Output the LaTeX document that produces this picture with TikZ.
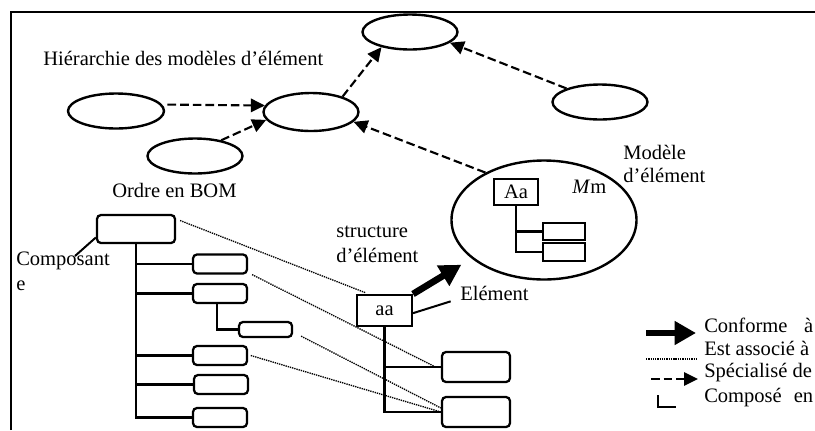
\documentclass[tikz,border=0pt]{standalone}
\usepackage{fontspec}
\setmainfont{Liberation Serif}
\usetikzlibrary{arrows.meta,shapes.geometric}

\tikzset{
  lbl/.style={inner sep=0pt, anchor=base west},
  sz/.style 2 args={minimum width=#1*0.75pt, minimum height=#2*0.75pt},
  oval/.style={ellipse, draw, line width=1.8pt, inner sep=0pt},
  rbox/.style={draw, rounded corners=3pt, line width=1.7pt, inner sep=0pt},
  sqbox/.style={draw, line width=1.5pt, inner sep=0pt},
  tree/.style={line width=1.7pt},
  spec/.style={line width=1.6pt, dash pattern=on 6.5pt off 3pt,
    -{Triangle[length=10.5pt,width=10pt]}},
  assoc/.style={line width=1pt, dash pattern=on 1pt off 0.7pt},
  conf/.style={line width=5pt, -{Triangle[length=16pt,width=17pt]}},
  pointer/.style={line width=1.5pt},
}

\begin{document}
\begin{tikzpicture}[x=0.75pt, y=-0.75pt, font=\fontsize{15.4pt}{18pt}\selectfont]
\useasboundingbox (0,0) rectangle (815,430);

% frame (top and left edges)
\draw[line width=2.2pt] (11,430) -- (11,12) -- (815,12);

% hierarchy of element models
\node[oval, sz={95}{35}] (Etop)   at (410,32)  {};
\node[oval, sz={95}{38}] (Emid)   at (311,112) {};
\node[oval, sz={96}{35}] (Eleft)  at (116,111) {};
\node[oval, sz={95}{35}] (Elow)   at (195,156) {};
\node[oval, sz={95}{35}] (Eright) at (600,102) {};
\node[oval, sz={185}{119}] (Emodel) at (544,220) {};

\node[lbl] (title) at (43,65) {Hiérarchie des modèles d’élément};
\node[lbl] (ordre) at (112,197) {Ordre en BOM};
\node[lbl] (mod1) at (623,159) {Modèle};
\node[lbl] (mod2) at (623,182) {d’élément};

\draw[spec, shorten <=4pt] (Eleft.8) -- (Emid.172);
\draw[spec] (Elow.31) -- (Emid.190);
\draw[spec] (Emid.26) -- (Etop.208);
\draw[spec] (Eright.158) -- (Etop.-15);
\draw[spec] (Emodel.141) -- (Emid.-13);

% element model structure
\node[sqbox, sz={44}{26}] (Aa) at (516,192) {Aa};
\node[sqbox, sz={42}{17}] (m1) at (564,231.5) {};
\node[sqbox, sz={42}{18}] (m2) at (564,252) {};
\draw[tree] (Aa.south) |- (m2.west);
\draw[tree] (Aa.south |- m1.west) -- (m1.west);
\node[lbl] (Mm) at (572,193) {\textit{M}m};

% BOM order
\node[rbox, sz={78}{28}] (bom) at (136,229) {};
\node[rbox, sz={54}{19}] (c1) at (220,264) {};
\node[rbox, sz={54}{19}] (c2) at (220,293.5) {};
\node[rbox, sz={53}{15}] (c3) at (265.5,329.5) {};
\node[rbox, sz={54}{19}] (c4) at (220,355.5) {};
\node[rbox, sz={54}{19}] (c5) at (221,384.5) {};
\node[rbox, sz={54}{19}] (c6) at (220,417.5) {};
\draw[tree] (bom.south) |- (c6.west);
\foreach \c in {c1,c2,c4,c5} \draw[tree] (bom.south |- \c.west) -- (\c.west);
\draw[tree] ([xshift=-2.25pt]c2.south) |- (c3.west);

\node[lbl] (comp1) at (16,265) {Composant};
\node[lbl] (comp2) at (16,290) {e};
\draw[pointer] ([xshift=44.25pt,yshift=6.75pt]comp1.base west) -- ([yshift=5pt]bom.south west);

% element structure
\node[sqbox, sz={55}{31}] (aa) at (384.5,310.5) {aa};
\node[rbox, sz={68}{30}] (eA) at (476,367) {};
\node[rbox, sz={68}{30}] (eB) at (476,412) {};
\draw[tree] (aa.south) |- (eB.west);
\draw[tree] (aa.south |- eA.west) -- (eA.west);

\node[lbl] (struct1) at (336,237) {structure};
\node[lbl] (struct2) at (336,262) {d’élément};
\node[lbl] (elem) at (460,300) {Elément};
\draw[pointer] ([xshift=-7pt,yshift=-1pt]elem.base west) -- ([yshift=-2pt]aa.east);

\draw[conf, shorten >=9pt] (aa.north east) -- (Emodel.208);

% associations
\draw[assoc] ([xshift=3pt,yshift=-5pt]bom.north east) -- ([xshift=7pt,yshift=1pt]aa.north west);
\draw[assoc] ([xshift=3pt]c1.south east) -- ([xshift=-4pt]eA.west);
\draw[assoc] ([xshift=6pt,yshift=-5pt]c3.east) -- ([yshift=3pt]eB.west);
\draw[assoc] ([xshift=2pt]c4.east) -- (eB.west);

% legend
\coordinate (k1a) at (646,333); \coordinate (k1b) at (696,333);
\coordinate (k2a) at (646,359); \coordinate (k2b) at (696,359);
\coordinate (k3a) at (651,379); \coordinate (k3b) at (698,379);
\coordinate (k4a) at (658,395); \coordinate (k4b) at (676,407);
\draw[conf] (k1a) -- (k1b);
\draw[assoc] (k2a) -- (k2b);
\draw[spec] (k3a) -- (k3b);
\draw[tree] (k4a) |- (k4b);
\node[lbl] (lg1) at (704,332) {\makebox[81.75pt][s]{Conforme à}};
\node[lbl] (lg2) at (704,355) {Est associé à};
\node[lbl] (lg3) at (704,377) {Spécialisé de};
\node[lbl] (lg4) at (704,402) {\makebox[81.75pt][s]{Composé en}};
\end{tikzpicture}
\end{document}
